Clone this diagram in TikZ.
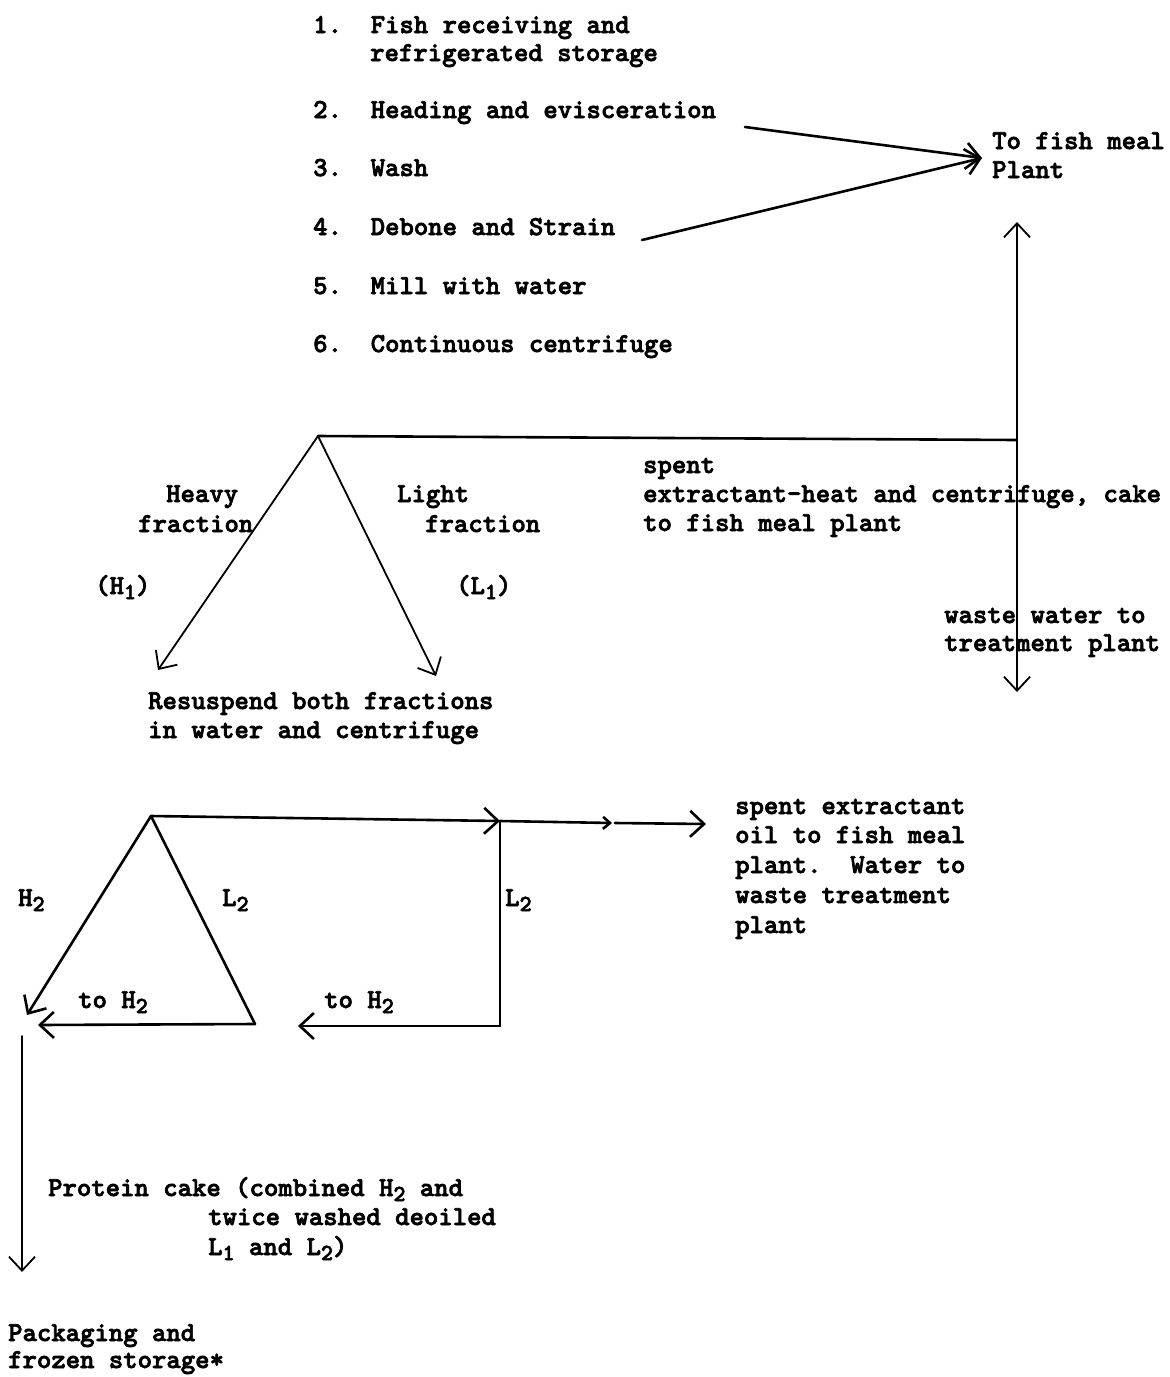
\documentclass[tikz,border=0pt]{standalone}
\usepackage{fontspec}
\newfontfamily\typew{lmmonolt10-bold.otf}[FakeBold=2.5]
\usetikzlibrary{arrows.meta}
\newcommand{\tw}{\typew\fontsize{27.4}{32}\selectfont}
\newcommand{\lowsub}[1]{\raisebox{-5pt}{\fontsize{23}{23}\selectfont #1}}
\begin{document}
\begin{tikzpicture}[x=1pt,y=-1pt,
  lbl/.style={anchor=base west, inner sep=0pt, font=\tw},
  ln/.style={line width=2.6pt, line cap=round, line join=round},
  thin/.style={line width=1.8pt, line cap=round},
  tip/.style={-{Straight Barb[length=14pt,width=26pt]}},
  smalltip/.style={-{Straight Barb[length=7pt,width=12pt]}}]
\useasboundingbox[fill=white] (0,0) rectangle (1170,1377);

% ---- numbered steps
\node[lbl] (s1a) at (313,33) {1.~~Fish receiving and};
\node[lbl] (s1b) at (370,61) {refrigerated storage};
\node[lbl] (s2) at (313,118) {2.~~Heading and evisceration};
\node[lbl] (s3) at (313,176) {3.~~Wash};
\node[lbl] (s4) at (313,235) {4.~~Debone and Strain};
\node[lbl] (s5) at (313,294) {5.~~Mill with water};
\node[lbl] (s6) at (313,352) {6.~~Continuous centrifuge};

\node[lbl] (fm1) at (992,149) {To fish meal};
\node[lbl] (fm2) at (992,178) {Plant};

\coordinate (a2) at (745,127);
\coordinate (a4) at (642,240);
\coordinate (fmt) at (982,158);
\draw[ln,tip] (a2) -- (fmt);
\draw[ln,tip] (a4) -- (fmt);

% ---- first centrifuge split
\coordinate (apex1) at (318,436);
\coordinate (jr) at (1017,440);
\coordinate (up) at (1017,222);
\coordinate (dn) at (1017,692);
\coordinate (htip) at (158,670);
\coordinate (ltip) at (436,676);
\draw[ln] (apex1) -- (jr);
\draw[thin,tip] (jr) -- (up);
\draw[thin,tip] (jr) -- (dn);
\draw[thin,tip] (apex1) -- (htip);
\draw[thin,tip] (apex1) -- (ltip);

\node[lbl] (hv1) at (166,502) {Heavy};
\node[lbl] (hv2) at (138,532) {fraction};
\node[lbl] (lt1) at (397,502) {Light};
\node[lbl] (lt2) at (425,532) {fraction};
\node[lbl] (h1) at (95,594) {(H\lowsub{1})};
\node[lbl] (l1) at (456,594) {(L\lowsub{1})};

\node[lbl] (sp1) at (643,473) {spent};
\node[lbl] (sp2) at (643,502) {extractant-heat and centrifuge, cake};
\node[lbl] (sp3) at (643,531) {to fish meal plant};

\node[lbl] (ww1) at (944,623) {waste water to};
\node[lbl] (ww2) at (944,651) {treatment plant};

\node[lbl] (rs1) at (148,709) {Resuspend both fractions};
\node[lbl] (rs2) at (148,738) {in water and centrifuge};

% ---- second centrifuge
\coordinate (apex2) at (151,816);
\coordinate (tr) at (500,821);
\coordinate (mk) at (612,823);
\coordinate (mk2) at (615,823);
\coordinate (et) at (706,824);
\coordinate (br) at (500,1026);
\coordinate (bt) at (298,1026);
\coordinate (h2t) at (27,1015);
\coordinate (l2b) at (255,1024);
\coordinate (l2t) at (38,1025);
\draw[ln,tip] (apex2) -- (tr);
\draw[ln,smalltip] (tr) -- (mk);
\draw[ln,tip] (mk2) -- (et);
\draw[thin] (tr) -- (br);
\draw[ln,tip] (br) -- (bt);
\draw[ln,tip] (apex2) -- (h2t);
\draw[ln] (apex2) -- (l2b);
\draw[ln,tip] (l2b) -- (l2t);

\node[lbl] (lh2) at (18,906) {H\lowsub{2}};
\node[lbl] (ll2) at (222,906) {L\lowsub{2}};
\node[lbl] (lr2) at (505,906) {L\lowsub{2}};
\node[lbl] (th1) at (78,1008) {to H\lowsub{2}};
\node[lbl] (th2) at (324,1008) {to H\lowsub{2}};

\node[lbl] (se1) at (735,814) {spent extractant};
\node[lbl] (se2) at (735,843) {oil to fish meal};
\node[lbl] (se3) at (735,873) {plant.~~Water to};
\node[lbl] (se4) at (735,903) {waste treatment};
\node[lbl] (se5) at (735,933) {plant};

% ---- protein cake
\coordinate (pc0) at (22,1036);
\coordinate (pc1) at (22,1272);
\draw[thin,tip] (pc0) -- (pc1);
\node[lbl] (pc1a) at (48,1196) {Protein cake (combined H\lowsub{2} and};
\node[lbl] (pc1b) at (208,1225) {twice washed deoiled};
\node[lbl] (pc1c) at (208,1255) {L\lowsub{1} and L\lowsub{2})};

\node[lbl] (pk1) at (8,1341) {Packaging and};
\node[lbl] (pk2) at (8,1368) {frozen storage*};
\end{tikzpicture}
\end{document}
